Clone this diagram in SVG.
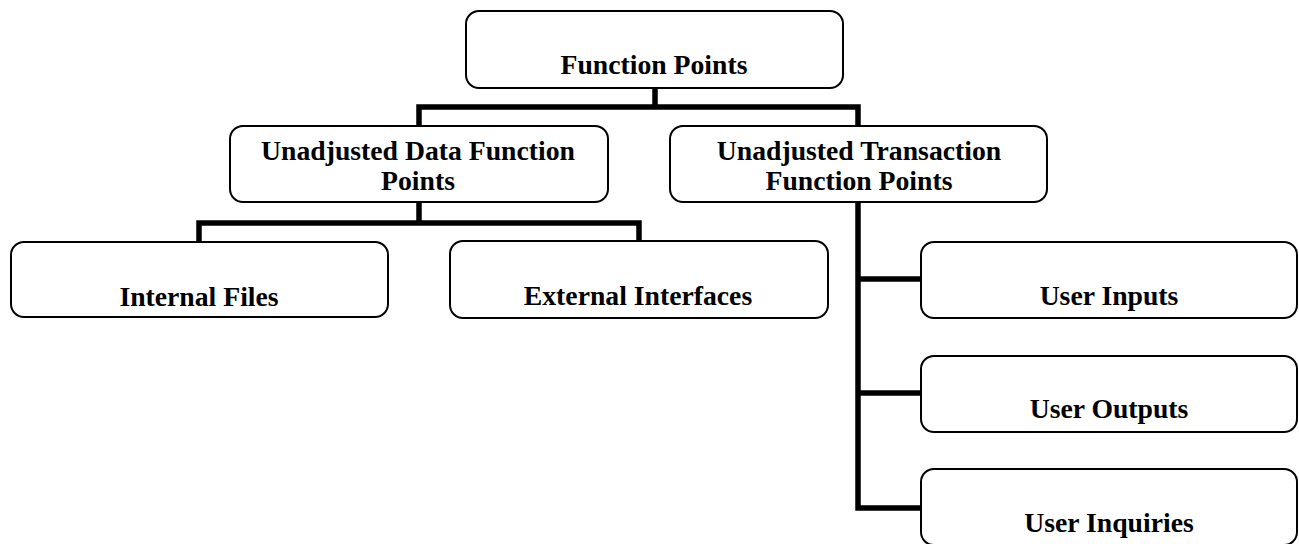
<svg xmlns="http://www.w3.org/2000/svg" width="1299" height="544" viewBox="0 0 1299 544">
<style>
.box{fill:#fff;stroke:#000;stroke-width:2}
.lbl{font-family:"Liberation Serif","Times New Roman",serif;font-weight:bold;font-size:27.7px;fill:#000;text-anchor:middle}
.conn{fill:none;stroke:#000;stroke-width:5.5;stroke-linejoin:miter;stroke-linecap:butt}
</style>
<rect width="1299" height="544" fill="#fff"/>
<g id="connectors">
<path class="conn" d="M655,88 V107 M419,126 V107 H858 V126"/>
<path class="conn" d="M419,202 V223 M199,242 V223 H639 V241"/>
<path class="conn" d="M858,202 V508 H921 M858,279 H921 M858,393 H921"/>
</g>
<g id="n-fp"><rect class="box" x="466" y="11" width="377" height="77" rx="13"/><text class="lbl" x="654" y="74">Function Points</text></g>
<g id="n-udfp"><rect class="box" x="230" y="126" width="378" height="76" rx="13"/><text class="lbl" x="418" y="160">Unadjusted Data Function</text><text class="lbl" x="418" y="190">Points</text></g>
<g id="n-utfp"><rect class="box" x="670" y="126" width="377" height="76" rx="13"/><text class="lbl" x="859" y="160">Unadjusted Transaction</text><text class="lbl" x="859" y="190">Function Points</text></g>
<g id="n-if"><rect class="box" x="11" y="242" width="377" height="75" rx="13"/><text class="lbl" x="199" y="306">Internal Files</text></g>
<g id="n-ei"><rect class="box" x="450" y="241" width="378" height="77" rx="13"/><text class="lbl" x="638" y="305">External Interfaces</text></g>
<g id="n-ui"><rect class="box" x="921" y="242" width="376" height="76" rx="13"/><text class="lbl" x="1109" y="305">User Inputs</text></g>
<g id="n-uo"><rect class="box" x="921" y="356" width="376" height="76" rx="13"/><text class="lbl" x="1109" y="418">User Outputs</text></g>
<g id="n-uq"><rect class="box" x="921" y="469" width="376" height="76" rx="13"/><text class="lbl" x="1109" y="532">User Inquiries</text></g>
</svg>
